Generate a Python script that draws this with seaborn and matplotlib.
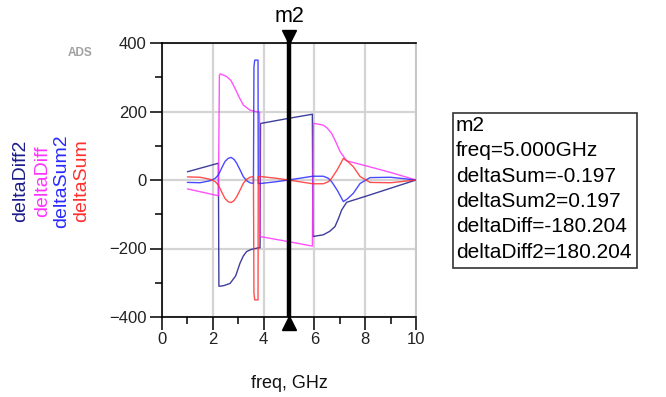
import numpy as np
import pandas as pd
import matplotlib
matplotlib.use("Agg")
import matplotlib.pyplot as plt
import seaborn as sns
from matplotlib.patches import Rectangle
from matplotlib.ticker import MultipleLocator

# ---- series (freq in GHz, phase in degrees) ----
diff2_freq = [1.0, 2.22, 2.24, 2.3, 2.45, 2.68, 2.9, 3.07, 3.2, 3.33, 3.5, 3.79, 3.86, 3.88,
              5.0, 5.92, 5.94, 6.1, 6.35, 6.6, 6.81, 6.95, 7.07, 7.27, 8.0, 9.0, 10.0]
diff2_val = [24, 49, -310, -310, -308, -302, -280, -243, -222, -209, -203, -198, -198, 165,
             180.204, 192, -165, -163, -160, -150, -136, -112, -88, -65, -48, -24, 0]

diff_freq = [1.0, 2.22, 2.26, 2.3, 2.55, 2.72, 2.87, 3.05, 3.2, 3.46, 3.73, 3.84, 3.86,
             5.0, 5.92, 5.96, 6.02, 6.35, 6.5, 6.68, 6.85, 7.01, 7.27, 8.0, 9.0, 10.0]
diff_val = [-26, -46, 306, 310, 302, 290, 268, 240, 219, 204, 199, 198, -165,
            -180.204, -193, 165, 165, 160, 152, 136, 110, 83, 56, 42, 22, 0]

sum2_freq = [1.0, 1.5, 1.9, 2.1, 2.22, 2.35, 2.48, 2.6, 2.72, 2.84, 2.94, 3.07, 3.2, 3.33,
             3.46, 3.6, 3.62, 3.65, 3.78, 3.79, 3.9, 4.5, 5.0, 5.5, 5.93, 6.35, 6.55, 6.68,
             6.9, 7.14, 7.3, 7.53, 7.8, 8.19, 9.0, 10.0]
sum2_val = [-7, -8, -2, 5, 15, 35, 54, 63, 66, 60, 49, 30, 10, -2,
            -8, -10, 330, 350, 350, -10, -10, -5, 0.197, 6, 11, 11, 5, -5,
            -30, -63, -55, -39, -10, 7, 8, 0]

sum_freq = [1.0, 1.5, 1.9, 2.1, 2.22, 2.35, 2.48, 2.6, 2.72, 2.84, 2.94, 3.07, 3.2, 3.33,
            3.46, 3.6, 3.62, 3.65, 3.78, 3.79, 3.9, 4.5, 5.0, 5.5, 5.93, 6.35, 6.55, 6.68,
            6.9, 7.14, 7.3, 7.53, 7.8, 8.19, 9.0, 10.0]
sum_val = [9, 8, 2, -5, -15, -35, -54, -63, -66, -60, -49, -30, -10, 2,
           8, 10, -330, -350, -350, 10, 10, 5, -0.197, -6, -11, -11, -5, 5,
           30, 63, 55, 39, 10, -7, -8, 0]

series_names = ["deltaDiff2", "deltaDiff", "deltaSum2", "deltaSum"]
series_colors = {"deltaDiff2": "#1c1c8c", "deltaDiff": "#ff33ff",
                 "deltaSum2": "#2a2aff", "deltaSum": "#ff3030"}
series_data = {"deltaDiff2": (diff2_freq, diff2_val), "deltaDiff": (diff_freq, diff_val),
               "deltaSum2": (sum2_freq, sum2_val), "deltaSum": (sum_freq, sum_val)}

marker_name = "m2"
marker_freq = 5.0
readout_order = ["deltaSum", "deltaSum2", "deltaDiff", "deltaDiff2"]

x_ticks = [0, 2, 4, 6, 8, 10]
y_ticks = [-400, -200, 0, 200, 400]

sns.set_theme(style="white")
plt.rcParams["font.family"] = ["Liberation Sans", "DejaVu Sans"]

fig = plt.figure(figsize=(6.66, 3.97), dpi=100)
W, H = 666, 397
ax = fig.add_axes([162 / W, 1 - 317 / H, (416 - 162) / W, (317 - 43) / H])

for name in series_names:
    f, v = series_data[name]
    df = pd.DataFrame({"freq": f, "value": v})
    sns.lineplot(data=df, x="freq", y="value", ax=ax, sort=False, estimator=None,
                 color=series_colors[name], linewidth=1.0, alpha=0.85, zorder=3)

ax.set_xlim(0, 10)
ax.set_ylim(-400, 400)
ax.set_xticks(x_ticks)
ax.set_yticks(y_ticks)
ax.xaxis.set_minor_locator(MultipleLocator(1))
ax.yaxis.set_minor_locator(MultipleLocator(100))
ax.grid(True, which="major", color="#d4d4d4", linewidth=1.6, zorder=0)
ax.set_axisbelow(True)
ax.tick_params(which="major", direction="out", length=9, width=1.1, color="black",
               labelsize=12, labelcolor="#222222", left=True, bottom=True, pad=2)
ax.tick_params(which="minor", direction="out", length=5, width=1.1, color="black",
               left=True, bottom=True)
for side in ["left", "bottom", "top"]:
    ax.spines[side].set_color("black")
    ax.spines[side].set_linewidth(1.2)
ax.spines["right"].set_color("#c8c8c8")
ax.spines["right"].set_linewidth(1.4)
ax.set_xlabel("freq, GHz", fontsize=13, color="#111111", labelpad=20)
ax.set_ylabel("")

# marker line with end triangles
tr = ax.get_xaxis_transform()
ax.plot([marker_freq, marker_freq], [0, 1.047], transform=tr, color="black",
        linewidth=3.2, clip_on=False, zorder=5, solid_capstyle="butt")
ax.plot([marker_freq], [1.021], transform=tr, marker="v", color="black",
        markersize=10, clip_on=False, zorder=6)
ax.plot([marker_freq], [-0.021], transform=tr, marker="^", color="black",
        markersize=10, clip_on=False, zorder=6)
ax.text(marker_freq, 1.095, marker_name, transform=tr, ha="center", va="center",
        fontsize=15.5, color="black")

# vertical series labels on the left
label_x = [21, 43, 62, 82]
for name, px in zip(series_names, label_x):
    fig.text(px / W, 1 - 181 / H, name, rotation=90, ha="center", va="center",
             fontsize=14, color=series_colors[name])

fig.text(80 / W, 1 - 53 / H, "ADS", ha="center", va="center", fontsize=8.5,
         color="#a0a0a0", fontweight="bold")

# marker readout box
lines = [marker_name, f"freq={marker_freq:.3f}GHz"]
for name in readout_order:
    f, v = series_data[name]
    lines.append(f"{name}={np.interp(marker_freq, f, v):.3f}")
fig.patches.append(Rectangle((453 / W, 1 - 268 / H), (637 - 453) / W, (268 - 113) / H,
                             transform=fig.transFigure, fill=False,
                             edgecolor="#333333", linewidth=1.2))
fig.text(456 / W, 1 - 116 / H, "\n".join(lines), ha="left", va="top",
         fontsize=15, color="black", linespacing=1.42)

fig.savefig("out.png", dpi=100)
